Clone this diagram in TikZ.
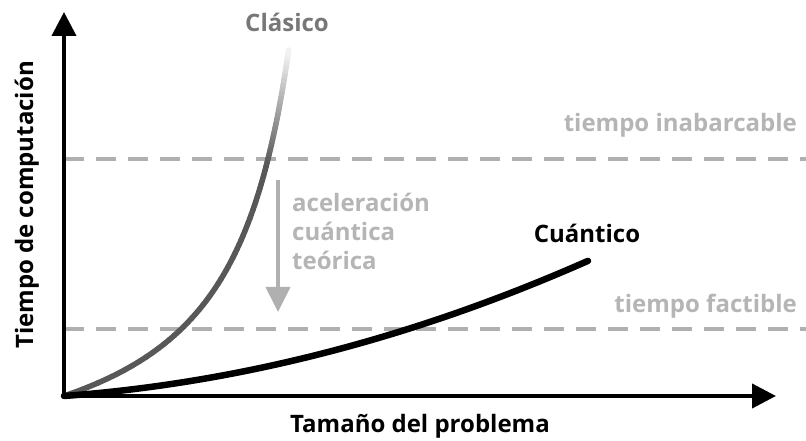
\documentclass[tikz,border=0pt]{standalone}
\usepackage{fontspec}
\setmainfont{Open Sans}
\usetikzlibrary{arrows.meta}
\definecolor{clasico}{HTML}{585858}
\definecolor{clasicotexto}{HTML}{777777}
\definecolor{guia}{HTML}{B0B0B0}
\definecolor{guiatexto}{HTML}{B5B5B5}
\tikzset{
  eje/.style={line width=4pt, -{Triangle[length=24pt,width=24pt]}},
  limite/.style={guia, line width=4pt, dash pattern=on 20pt off 12pt},
  etiqueta/.style={font=\bfseries\fontsize{24}{29}\selectfont, inner sep=0pt},
  guiatxt/.style={etiqueta, guiatexto},
  curvaclasica/.style={line width=5.5pt, line cap=round},
  curvacuantica/.style={line width=6.5pt, line cap=round},
  flecha/.style={guia, line width=4pt, -{Triangle[length=25pt,width=24pt]}}
}
\begin{document}
\begin{tikzpicture}[x=1pt,y=1pt]
\useasboundingbox (0,0) rectangle (806,441);
\coordinate (O) at (64,45);
\coordinate (ytope) at (64,429);
\coordinate (xtope) at (776,45);

% lineas de tiempo
\coordinate (inab0) at (64,282);
\coordinate (inab1) at (806,282);
\coordinate (fact0) at (64,112);
\coordinate (fact1) at (806,112);
\draw[limite] (inab0) -- (inab1);
\draw[limite] (fact0) -- (fact1);
\node[guiatxt, anchor=base east] (inab) at (797,309) {tiempo inabarcable};
\node[guiatxt, anchor=base east] (fact) at (797,128) {tiempo factible};

% curva clasica, se desvanece arriba
\foreach \i in {1,...,80}{
  \pgfmathsetmacro\ha{4.325*(\i-1)}
  \pgfmathsetmacro\hb{4.325*\i}
  \pgfmathsetmacro\xa{288*(\ha/(97.6+\ha))}
  \pgfmathsetmacro\xb{288*(\hb/(97.6+\hb))}
  \pgfmathsetmacro\p{min(100,100-0.836*(\hb-236))}
  \draw[curvaclasica, clasico!\p!white, shift={(O)}] (\xa,\ha) -- (\xb,\hb);
}
\node[etiqueta, clasicotexto, anchor=base] (clasico) at (287,409) {Clásico};

% curva cuantica
\draw[curvacuantica, shift={(O)}] plot[domain=0:524, samples=60] (\x,{0.074*\x+0.000347*\x*\x});
\node[etiqueta, anchor=base] (cuantico) at (587,198) {Cuántico};

% aceleracion
\coordinate (acel0) at (278,261);
\coordinate (acel1) at (278,129);
\draw[flecha] (acel0) -- (acel1);
\node[guiatxt, anchor=base west, align=left] (acel) at (292,171) {aceleración\\cuántica\\teórica};

% ejes
\draw[eje] (O) -- (ytope);
\draw[eje] (O) -- (xtope);
\node[etiqueta, anchor=base, rotate=90] (ylab) at (33,236) {Tiempo de computación};
\node[etiqueta, anchor=base] (xlab) at (420,8) {Tamaño del problema};
\end{tikzpicture}
\end{document}
